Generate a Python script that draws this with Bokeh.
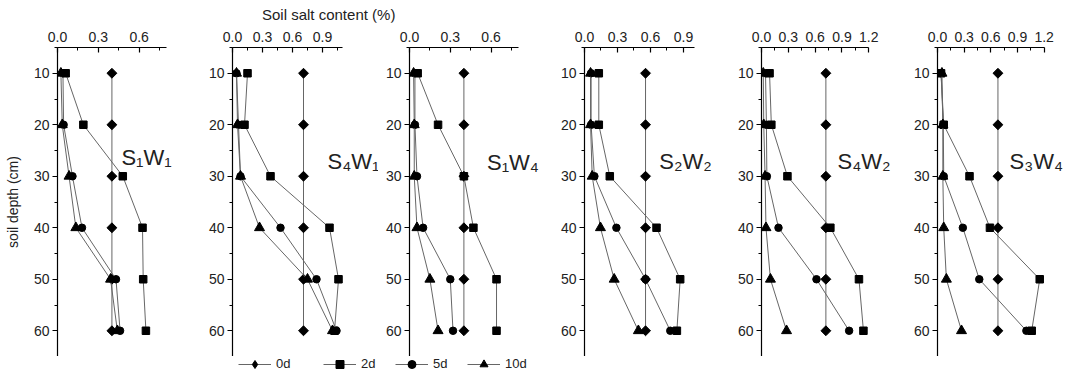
import numpy as np
from bokeh.plotting import figure
from bokeh.layouts import row, column
from bokeh.models import Range1d, FixedTicker, Label, Legend, LegendItem, Div, Spacer
from bokeh.embed import file_html
from bokeh.resources import INLINE

# ---------------- data ----------------
depth = [10, 20, 30, 40, 50, 60]
series_names = ["0d", "2d", "5d", "10d"]
panel_names = ["S₁W₁", "S₄W₁", "S₁W₄", "S₂W₂", "S₄W₂", "S₃W₄"]

s1w1_0d = [0.40, 0.40, 0.40, 0.40, 0.40, 0.40]
s1w1_2d = [0.06, 0.19, 0.48, 0.625, 0.63, 0.65]
s1w1_5d = [0.04, 0.045, 0.11, 0.18, 0.43, 0.46]
s1w1_10d = [0.025, 0.035, 0.085, 0.135, 0.39, 0.44]

s4w1_0d = [0.71, 0.71, 0.71, 0.71, 0.71, 0.71]
s4w1_2d = [0.15, 0.12, 0.38, 0.97, 1.06, 1.02]
s4w1_5d = [0.04, 0.06, 0.08, 0.48, 0.84, 1.04]
s4w1_10d = [0.04, 0.05, 0.08, 0.27, 0.75, 1.00]

s1w4_0d = [0.40, 0.40, 0.40, 0.40, 0.40, 0.40]
s1w4_2d = [0.06, 0.21, 0.40, 0.47, 0.64, 0.64]
s1w4_5d = [0.04, 0.04, 0.055, 0.10, 0.30, 0.32]
s1w4_10d = [0.03, 0.035, 0.035, 0.055, 0.15, 0.21]

s2w2_0d = [0.555, 0.555, 0.555, 0.555, 0.555, 0.555]
s2w2_2d = [0.13, 0.13, 0.23, 0.655, 0.87, 0.84]
s2w2_5d = [0.06, 0.06, 0.09, 0.29, 0.555, 0.78]
s2w2_10d = [0.055, 0.055, 0.07, 0.145, 0.27, 0.49]

s4w2_0d = [0.72, 0.72, 0.72, 0.72, 0.72, 0.72]
s4w2_2d = [0.09, 0.11, 0.29, 0.77, 1.09, 1.14]
s4w2_5d = [0.045, 0.055, 0.06, 0.19, 0.615, 0.98]
s4w2_10d = [0.02, 0.025, 0.04, 0.05, 0.10, 0.28]

s3w4_0d = [0.68, 0.68, 0.68, 0.68, 0.68, 0.68]
s3w4_2d = [0.04, 0.07, 0.36, 0.59, 1.15, 1.06]
s3w4_5d = [0.04, 0.065, 0.07, 0.285, 0.47, 1.00]
s3w4_10d = [0.05, 0.06, 0.06, 0.07, 0.10, 0.27]

panel_data = [
    [s1w1_0d, s1w1_2d, s1w1_5d, s1w1_10d],
    [s4w1_0d, s4w1_2d, s4w1_5d, s4w1_10d],
    [s1w4_0d, s1w4_2d, s1w4_5d, s1w4_10d],
    [s2w2_0d, s2w2_2d, s2w2_5d, s2w2_10d],
    [s4w2_0d, s4w2_2d, s4w2_5d, s4w2_10d],
    [s3w4_0d, s3w4_2d, s3w4_5d, s3w4_10d],
]

y_ticks = [10, 20, 30, 40, 50, 60]
y_minor_ticks = [5, 15, 25, 35, 45, 55, 65]
x_ticks_06 = [0.0, 0.3, 0.6]
x_labels_06 = ["0.0", "0.3", "0.6"]
x_ticks_09 = [0.0, 0.3, 0.6, 0.9]
x_labels_09 = ["0.0", "0.3", "0.6", "0.9"]
x_ticks_12 = [0.0, 0.3, 0.6, 0.9, 1.2]
x_labels_12 = ["0.0", "0.3", "0.6", "0.9", "1.2"]
x_minor_ticks = [0.15, 0.45, 0.75, 1.05]

# ---------------- layout / style ----------------
FONT = "Liberation Sans"
LINE_COL = "#666666"
TOP, FRAME_H = 25, 309
FIG_H = TOP + FRAME_H
FOOT_H = 15

# (left border, figure width, x end, axis bound end, ticks, labels, label x, label y)
panel_layout = [
    (57, 185, 0.941, 0.80, x_ticks_06, x_labels_06, 0.47, 26.4),
    (47, 193, 1.460, 1.10, x_ticks_09, x_labels_09, 0.95, 27.2),
    (31, 175, 1.059, 0.80, x_ticks_06, x_labels_06, 0.57, 27.4),
    (31, 171, 1.273, 1.00, x_ticks_09, x_labels_09, 0.68, 27.2),
    (37, 178, 1.577, 1.20, x_ticks_12, x_labels_12, 0.85, 27.2),
    (35, 167, 1.485, 1.20, x_ticks_12, x_labels_12, 0.81, 27.2),
]

marker_styles = [
    dict(marker="square", size=7, angle=np.pi / 4),
    dict(marker="square", size=7.5, angle=0.0),
    dict(marker="circle", size=7.5, angle=0.0),
    dict(marker="triangle", size=10, angle=0.0),
]
legend_markers = ["diamond", "square", "circle", "triangle"]

figs = []
for i, (name, data, lay) in enumerate(zip(panel_names, panel_data, panel_layout)):
    left, w, xend, bend, ticks, labels, lx, ly = lay
    p = figure(width=w, height=FIG_H, x_range=Range1d(0, xend), y_range=Range1d(65, 5),
               x_axis_location="above", output_backend="svg", toolbar_location=None,
               min_border_left=left, min_border_right=0, min_border_top=TOP,
               min_border_bottom=0)
    p.grid.visible = False
    p.outline_line_color = None
    p.background_fill_color = "white"
    p.border_fill_color = "white"

    xa = p.xaxis[0]
    xa.bounds = (0, bend)
    xa.ticker = FixedTicker(ticks=ticks, minor_ticks=[m for m in x_minor_ticks if m < bend])
    xa.major_label_overrides = {t: l for t, l in zip(ticks, labels)}
    xa.major_tick_in = 5
    xa.major_tick_out = 0
    xa.minor_tick_in = 3
    xa.minor_tick_out = 0
    xa.major_label_standoff = 6

    ya = p.yaxis[0]
    ya.ticker = FixedTicker(ticks=y_ticks, minor_ticks=y_minor_ticks)
    ya.major_tick_in = 0
    ya.major_tick_out = 5
    ya.minor_tick_in = 0
    ya.minor_tick_out = 3
    ya.major_label_standoff = 3

    for ax in (xa, ya):
        ax.axis_line_color = "black"
        ax.axis_line_width = 1.2
        ax.major_tick_line_color = "black"
        ax.minor_tick_line_color = "black"
        ax.major_tick_line_width = 1.2
        ax.major_label_text_font = FONT
        ax.major_label_text_font_size = "14px"
        ax.major_label_text_color = "#222222"

    if i == 0:
        ya.axis_label = "soil depth (cm)"
        ya.axis_label_text_font = FONT
        ya.axis_label_text_font_size = "14px"
        ya.axis_label_text_font_style = "normal"
        ya.axis_label_text_color = "#222222"
        ya.axis_label_standoff = 10

    for vals, ms in zip(data, marker_styles):
        p.line(x=vals, y=depth, line_color=LINE_COL, line_width=1)
        p.scatter(x=vals, y=depth, marker=ms["marker"], size=ms["size"],
                  angle=ms["angle"], fill_color="black", line_color="black")

    p.add_layout(Label(x=lx, y=ly, text=name, text_font=FONT, text_font_size="22px",
                       text_color="#222222", text_align="left", text_baseline="middle"))
    figs.append(p)

# ---------------- legend strip below the panels ----------------
lf = figure(width=310, height=FOOT_H, x_range=Range1d(0, 1), y_range=Range1d(0, 1),
            x_axis_type=None, y_axis_type=None, output_backend="svg",
            toolbar_location=None, min_border=0)
lf.grid.visible = False
lf.outline_line_color = None
lf.background_fill_color = "white"
lf.border_fill_color = "white"

legend_items = []
for nm, mk in zip(series_names, legend_markers):
    lr = lf.line(x=[np.nan], y=[np.nan], line_color=LINE_COL, line_width=1)
    sr = lf.scatter(x=[np.nan], y=[np.nan], marker=mk, fill_color="black",
                    line_color="black")
    legend_items.append(LegendItem(label=nm, renderers=[lr, sr]))


def make_legend(items, loc, spacing):
    return Legend(items=items, location=loc, orientation="horizontal",
                  glyph_width=33, glyph_height=20, label_height=12, label_standoff=5,
                  spacing=spacing, padding=0, margin=0, border_line_alpha=0,
                  background_fill_alpha=0, label_text_font=FONT,
                  label_text_font_size="13px", label_text_color="#222222")


lf.add_layout(make_legend(legend_items[:2], (8, -2.5), 27))
lf.add_layout(make_legend(legend_items[2:], (165, -2.5), 14))

title = Div(text='<div style="font-family:\'Liberation Sans\';font-size:15px;color:#222;'
                 'text-align:center;padding-top:7px;line-height:16px;white-space:nowrap">'
                 'Soil salt content (%)</div>',
            width=190, height=22, margin=(0, 0, 0, 0))
header = row(Spacer(width=262, height=22), title)
footer = row(Spacer(width=230, height=FOOT_H), lf)
layout = column(header, row(*figs), footer)

open("out.html", "w").write(file_html(layout, INLINE))
